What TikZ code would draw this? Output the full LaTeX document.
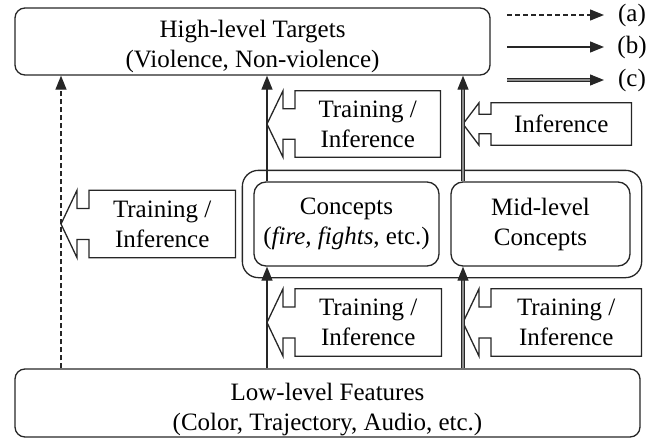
\documentclass[tikz,border=0pt]{standalone}
\usepackage{fontspec}
\setmainfont{Liberation Serif}
\usetikzlibrary{arrows.meta,calc,fit}

\tikzset{
  edge/.style={draw=black!85, line width=1.3pt},
  rbox/.style={edge, rounded corners=10pt, inner sep=0pt, align=center},
  tag/.style={inner sep=0pt, align=center, anchor=west, minimum height=67pt},
  tip/.style={edge, -{Triangle[length=14pt,width=11pt]}},
  dsh/.style={tip, dash pattern=on 5pt off 3pt},
  dbl/.style={tip, double=black!45, double distance=1.8pt, line width=1.2pt}
}

\begin{document}
\begin{tikzpicture}[x=1pt, y=-1pt, font=\fontsize{25}{30}\selectfont]
    \useasboundingbox (0,0) rectangle (666,439);

    % levels
    \node[rbox, minimum width=475pt, minimum height=67pt] (high) at (252.5,41.5) {};
    \node[align=center, inner sep=0pt] (hight) at (252.5,46) {High-level Targets\\(Violence, Non-violence)};
    \node[rbox, minimum width=625pt, minimum height=68pt] (low) at (327.5,403) {};
    \node[align=center, inner sep=0pt] (lowt) at (327.5,410) {Low-level Features\\(Color, Trajectory, Audio, etc.)};

    \node[rbox, rounded corners=12pt, minimum width=185pt, minimum height=84pt] (con) at (346.5,224) {Concepts\\(\textit{fire, fights}, etc.)};
    \node[rbox, rounded corners=12pt, minimum width=179pt, minimum height=84pt] (mid) at (540.5,224) {Mid-level\\Concepts};
    \node[rbox, rounded corners=16pt, fit=(con)(mid), inner sep=11pt] (grp) {};

    % callouts
    \node[tag, minimum width=146pt] (cl) at (89,224) {Training /\\Inference};
    \node[tag, minimum width=145pt, minimum height=66pt] (cu) at (295,124) {Training /\\Inference};
    \node[tag, minimum width=140pt, minimum height=42pt] (ci) at (491,124) {Inference};
    \node[tag, minimum width=146pt] (dl) at (295,322.5) {Training /\\Inference};
    \node[tag, minimum width=150pt] (dr) at (491,322.5) {Training /\\Inference};

    \foreach \k in {cl,cu,ci,dl,dr}{
        \draw[edge] (\k.north east) -- (\k.north west)
            -- ($(\k.north west)!.27!(\k.south west)$)
            -- ($(\k.north west)!.27!(\k.south west)+(-12,0)$)
            -- ($(\k.north west)+(-12,0)$)
            -- ($(\k.west)+(-28,0)$)
            -- ($(\k.south west)+(-12,0)$)
            -- ($(\k.north west)!.73!(\k.south west)+(-12,0)$)
            -- ($(\k.north west)!.73!(\k.south west)$)
            -- (\k.south west) -- (\k.south east) -- cycle;
    }

    % connectors
    \coordinate (xd) at (61,0);
    \coordinate (xs) at (267,0);
    \coordinate (xb) at (463,0);

    \draw[dsh] (xd |- low.north) -- (xd |- high.south);

    \draw[tip] (xs |- low.north) -- (xs |- con.south);
    \draw[tip] (xs |- con.north) -- (xs |- high.south);

    \draw[dbl] (xb |- low.north) -- (xb |- mid.south);
    \draw[dbl] (xb |- mid.north) -- (xb |- high.south);

    % legend
    \node (la) at (632,15) {(a)};
    \node (lb) at (632,47) {(b)};
    \node (lc) at (632,80) {(c)};
    \coordinate (a0) at (507,15);
    \coordinate (a1) at (604,15);
    \coordinate (b0) at (507,47);
    \coordinate (b1) at (604,47);
    \coordinate (c0) at (507,80);
    \coordinate (c1) at (604,80);
    \draw[dsh] (a0) -- (a1);
    \draw[tip] (b0) -- (b1);
    \draw[dbl] (c0) -- (c1);

\end{tikzpicture}
\end{document}
